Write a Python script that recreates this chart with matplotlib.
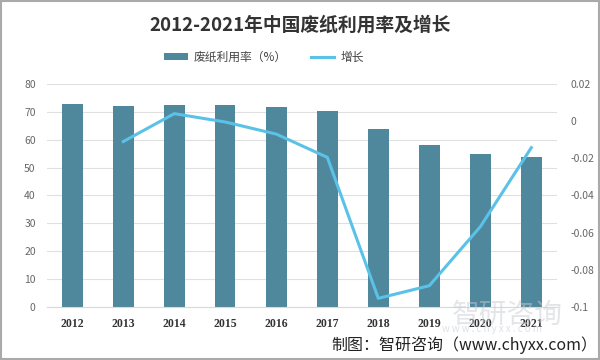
import matplotlib
matplotlib.use("Agg")
import matplotlib.pyplot as plt
from matplotlib.patches import Rectangle

plt.rcParams['font.family'] = ['Noto Sans CJK SC', 'DejaVu Sans']

years = ['2012', '2013', '2014', '2015', '2016', '2017', '2018', '2019', '2020', '2021']
rate = [72.9, 72.2, 72.5, 72.5, 71.8, 70.4, 63.7, 58.0, 54.7, 53.8]
growth_years = years[1:]
growth = [-0.011, 0.004, -0.0005, -0.007, -0.0195, -0.0953, -0.0885, -0.0568, -0.0143]

bar_color = '#4F879C'
line_color = '#5BC2E7'

fig = plt.figure(figsize=(6, 3.6), dpi=100)
ax = fig.add_axes([0.078, 0.147, 0.85, 0.62])
x = list(range(len(years)))
ax.bar(x, rate, width=0.4, color=bar_color, zorder=2, label='废纸利用率（%）')
ax.set_ylim(0, 80)
ax.set_yticks(range(0, 81, 10))
ax.set_xlim(-0.5, len(years) - 0.5)
ax.set_xticks(x)
ax.set_xticklabels(years, fontweight='bold', fontsize=8.5, color='#333333',
                   family=['Liberation Serif', 'DejaVu Serif'])
ax.grid(axis='y', color='#E0E0E0', linewidth=0.8, zorder=0)
ax.tick_params(axis='y', length=0, labelsize=7.5, labelcolor='#666666', pad=8)
ax.tick_params(axis='x', length=0, pad=8)
for s in ax.spines.values():
    s.set_visible(False)
ax.spines['bottom'].set_visible(True)
ax.spines['bottom'].set_color('#D9D9D9')

ax2 = ax.twinx()
ax2.plot([years.index(y) for y in growth_years], growth, color=line_color, linewidth=2.2,
         zorder=3, label='增长')
ax2.set_ylim(-0.1, 0.02)
ax2.set_yticks([0.02, 0, -0.02, -0.04, -0.06, -0.08, -0.1])
ax2.set_yticklabels(['0.02', '0', '-0.02', '-0.04', '-0.06', '-0.08', '-0.1'])
ax2.tick_params(axis='y', length=0, labelsize=7.5, labelcolor='#666666', pad=10)
for s in ax2.spines.values():
    s.set_visible(False)

fig.text(0.5, 0.93, '2012-2021年中国废纸利用率及增长', ha='center', va='center',
         fontsize=13.5, fontweight='bold', color='#333333')

h1, l1 = ax.get_legend_handles_labels()
h2, l2 = ax2.get_legend_handles_labels()
fig.legend(h1 + h2, l1 + l2, loc='center', bbox_to_anchor=(0.44, 0.842), ncol=2,
           frameon=False, fontsize=8.5, handlelength=2.0, handleheight=0.5,
           handletextpad=0.5, columnspacing=2.0, labelcolor='#444444')

# watermark
fig.text(0.845, 0.125, '智研咨询', ha='center', va='center', fontsize=20,
         color='#C8CCD4', alpha=0.5, zorder=0)
fig.text(0.82, 0.085, 'w w w . c h y x x . c o m', ha='center', va='center', fontsize=7,
         color='#C8CCD4', alpha=0.6)

fig.text(0.995, 0.04, '制图：智研咨询（www.chyxx.com）', ha='right', va='center',
         fontsize=11.5, color='#222222')

fig.patches.append(Rectangle((0.002, 0.003), 0.996, 0.994, transform=fig.transFigure,
                             fill=False, edgecolor='#AAAAAA', linewidth=1.5))

fig.savefig('out.png', dpi=100)
